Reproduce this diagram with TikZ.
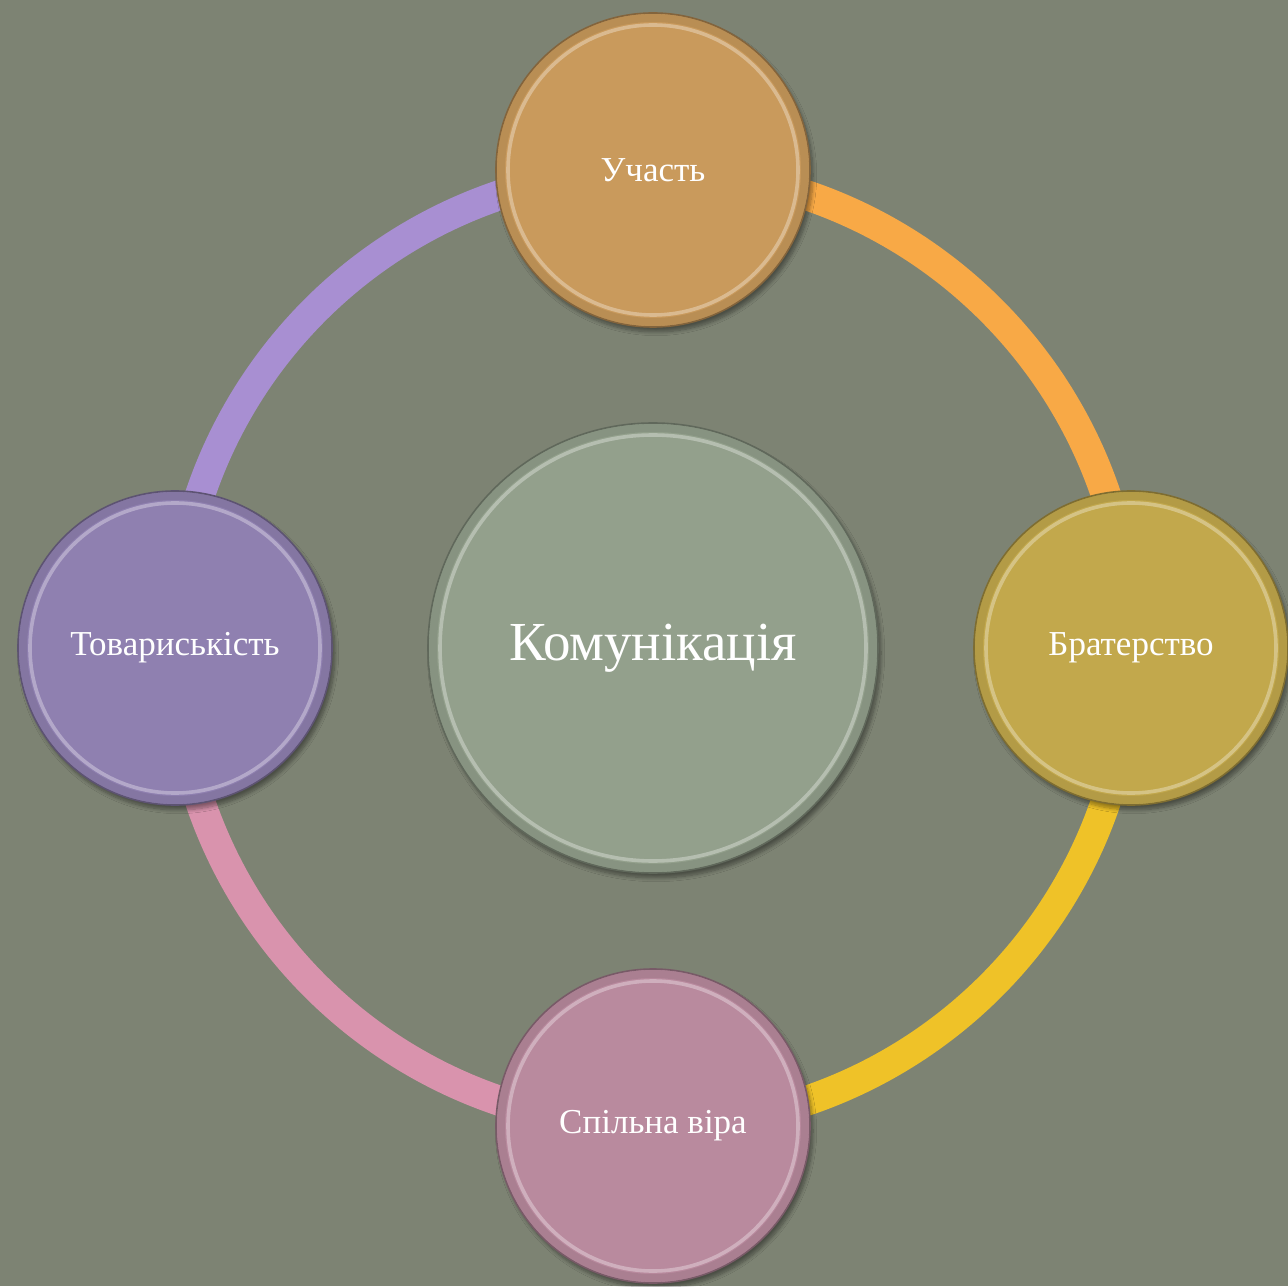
\documentclass[tikz,border=0pt]{standalone}
\usepackage{fontspec}
\setmainfont{Liberation Serif}
\usetikzlibrary{shadows.blur,backgrounds}
\definecolor{bgc}{HTML}{7D8373}
\definecolor{ringO}{HTML}{F8A946}
\definecolor{ringY}{HTML}{EFC228}
\definecolor{ringP}{HTML}{D993AD}
\definecolor{ringV}{HTML}{A88FD2}
\definecolor{nodeT}{HTML}{C99A5C}
\definecolor{nodeR}{HTML}{C2A84C}
\definecolor{nodeB}{HTML}{B98A9E}
\definecolor{nodeL}{HTML}{8F80B0}
\definecolor{nodeC}{HTML}{93A08C}
\tikzset{
  ringseg/.style={line width=15pt},
  bubble/.style={circle, draw=#1!65!black, line width=0.8pt, fill=#1,
     text=white, font=\fontsize{17.5}{20}\selectfont, inner sep=0pt,
     blur shadow={shadow xshift=1.5pt, shadow yshift=-2.5pt, shadow blur steps=8, shadow opacity=40}},
  smallb/.style={bubble=#1, minimum size=157pt,
     path picture={\draw[#1!85!black, opacity=.5, line width=4pt]
        (path picture bounding box.center) circle[radius=152];
        \draw[white, opacity=.32, line width=1.8pt]
        (path picture bounding box.center) circle[radius=145];}},
  bigb/.style={bubble=#1, minimum size=225pt, font=\fontsize{27.5}{30}\selectfont,
     path picture={\draw[#1!85!black, opacity=.5, line width=4pt]
        (path picture bounding box.center) circle[radius=220];
        \draw[white, opacity=.32, line width=1.8pt]
        (path picture bounding box.center) circle[radius=213];}},
}
\begin{document}
\begin{tikzpicture}[x=0.5pt,y=0.5pt]
\useasboundingbox (0,0) rectangle (1288,1286);
\node[bigb=nodeC]   (ctr) at (653,638)  {Комунікація};
\node[smallb=nodeT] (top) at (653,1116) {Участь};
\node[smallb=nodeR] (rgt) at (1131,638) {Братерство};
\node[smallb=nodeB] (bot) at (653,160)  {Спільна віра};
\node[smallb=nodeL] (lft) at (175,638)  {Товариськість};
\begin{scope}[on background layer]
  \fill[bgc] (0,0) rectangle (1288,1286);
  \draw[ringseg, ringO] (top.center) arc[start angle=90, end angle=0, radius=478];
  \draw[ringseg, ringY] (rgt.center) arc[start angle=0, end angle=-90, radius=478];
  \draw[ringseg, ringP] (bot.center) arc[start angle=270, end angle=180, radius=478];
  \draw[ringseg, ringV] (lft.center) arc[start angle=180, end angle=90, radius=478];
\end{scope}
\end{tikzpicture}
\end{document}
